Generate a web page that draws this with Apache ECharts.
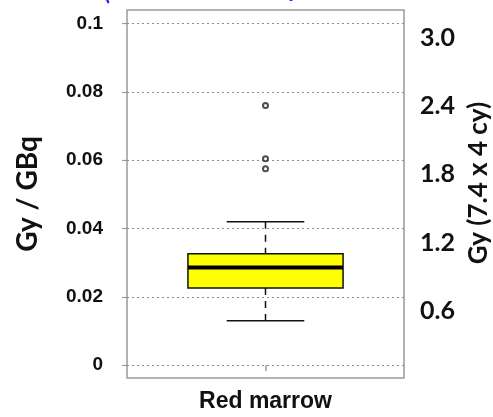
<!DOCTYPE html>
<html>
<head>
<meta charset="utf-8">
<script src="https://cdn.jsdelivr.net/npm/echarts@6/dist/echarts.min.js"></script>
<style>
html, body { margin: 0; padding: 0; background: #fff; }
#chart { width: 493px; height: 417px; }
</style>
</head>
<body>
<div id="chart"></div>
<script>
var categories = ['Red marrow'];
// lower whisker, Q1, median, Q3, upper whisker (Gy / GBq)
var boxStats = [0.013, 0.0226, 0.0286, 0.0326, 0.042];
var outliers = [0.076, 0.0604, 0.0575];
var leftTicks = [0, 0.02, 0.04, 0.06, 0.08, 0.1];
var rightTicks = [0.6, 1.2, 1.8, 2.4, 3.0];

var chart = echarts.init(document.getElementById('chart'));

function renderBox(params, api) {
    var x = api.value(0);
    var lo = api.coord([x, api.value(1)]);
    var q1 = api.coord([x, api.value(2)]);
    var med = api.coord([x, api.value(3)]);
    var q3 = api.coord([x, api.value(4)]);
    var hi = api.coord([x, api.value(5)]);
    var band = api.size([1, 0])[0];
    var cx = lo[0];
    var bw = band * 0.56;
    var cw = band * 0.28;
    var dark = '#111';
    return {
        type: 'group',
        children: [
            {type: 'line', shape: {x1: cx, y1: hi[1], x2: cx, y2: q3[1]},
             style: {stroke: dark, lineWidth: 1.5, lineDash: [7, 6]}},
            {type: 'line', shape: {x1: cx, y1: q1[1], x2: cx, y2: lo[1]},
             style: {stroke: dark, lineWidth: 1.5, lineDash: [7, 6]}},
            {type: 'line', shape: {x1: cx - cw / 2, y1: hi[1], x2: cx + cw / 2, y2: hi[1]},
             style: {stroke: dark, lineWidth: 1.5}},
            {type: 'line', shape: {x1: cx - cw / 2, y1: lo[1], x2: cx + cw / 2, y2: lo[1]},
             style: {stroke: dark, lineWidth: 1.5}},
            {type: 'rect', shape: {x: cx - bw / 2, y: q3[1], width: bw, height: q1[1] - q3[1]},
             style: {fill: '#ffff00', stroke: dark, lineWidth: 1.5}},
            {type: 'line', shape: {x1: cx - bw / 2, y1: med[1], x2: cx + bw / 2, y2: med[1]},
             style: {stroke: '#000', lineWidth: 4}}
        ]
    };
}

option = {
    backgroundColor: '#fff',
    animation: false,
    grid: {
        left: 127, right: 89, top: 10, bottom: 39,
        show: true, borderColor: '#9a9a9a', borderWidth: 1.5
    },
    xAxis: {
        type: 'category',
        data: categories,
        axisLine: {show: false},
        axisTick: {show: true, alignWithLabel: true, length: 6, lineStyle: {color: '#9a9a9a', width: 1.5}},
        axisLabel: {
            margin: 12,
            fontFamily: 'Liberation Sans', fontWeight: 'bold', fontSize: 23, color: '#111'
        }
    },
    yAxis: [{
        type: 'value',
        min: -0.0038,
        max: 0.104,
        name: 'Gy / GBq',
        nameLocation: 'middle',
        nameRotate: 90,
        nameGap: 85,
        nameTextStyle: {fontFamily: 'Lato', fontWeight: 'bold', fontSize: 28, color: '#111'},
        axisLine: {show: false},
        axisTick: {show: true, length: 5, customValues: leftTicks, lineStyle: {color: '#9a9a9a', width: 1.2}},
        axisLabel: {
            customValues: leftTicks,
            margin: 24,
            fontFamily: 'Liberation Sans', fontWeight: 'bold', fontSize: 19, color: '#111'
        },
        splitLine: {show: true, lineStyle: {type: [2, 3], color: '#8a8a8a', width: 1.2}}
    }, {
        type: 'value',
        position: 'right',
        min: 0.0088,
        max: 3.243,
        axisLine: {show: false},
        axisTick: {show: false},
        splitLine: {show: false},
        axisLabel: {
            customValues: rightTicks,
            margin: 16,
            formatter: function (v) { return v.toFixed(1); },
            fontFamily: 'Lato', fontWeight: 'bold', fontSize: 25, color: '#111'
        }
    }],
    graphic: [
        {type: 'text', x: 479, y: 183, rotation: Math.PI / 2,
         style: {text: 'Gy (7.4 x 4 cy)', fontFamily: 'Lato', fontWeight: 'bold', fontSize: 26,
                 fill: '#111', align: 'center', verticalAlign: 'middle'}},
        {type: 'text', x: 104, y: -18,
         style: {text: '(', fontFamily: 'Lato', fontWeight: 'bold', fontSize: 22, fill: '#1a1aff'}},
        {type: 'text', x: 287, y: -21,
         style: {text: 'y', fontFamily: 'Lato', fontWeight: 'bold', fontSize: 22, fill: '#1a1aff'}}
    ],
    series: [{
        type: 'custom',
        renderItem: renderBox,
        encode: {x: 0, y: [1, 2, 3, 4, 5]},
        data: [[0].concat(boxStats)],
        z: 3
    }, {
        type: 'scatter',
        symbol: 'emptyCircle',
        symbolSize: 5,
        itemStyle: {color: '#222', borderColor: '#222', borderWidth: 1.8},
        data: outliers.map(function (v) { return [0, v]; }),
        z: 4
    }]
};

chart.setOption(option);
</script>
</body>
</html>
